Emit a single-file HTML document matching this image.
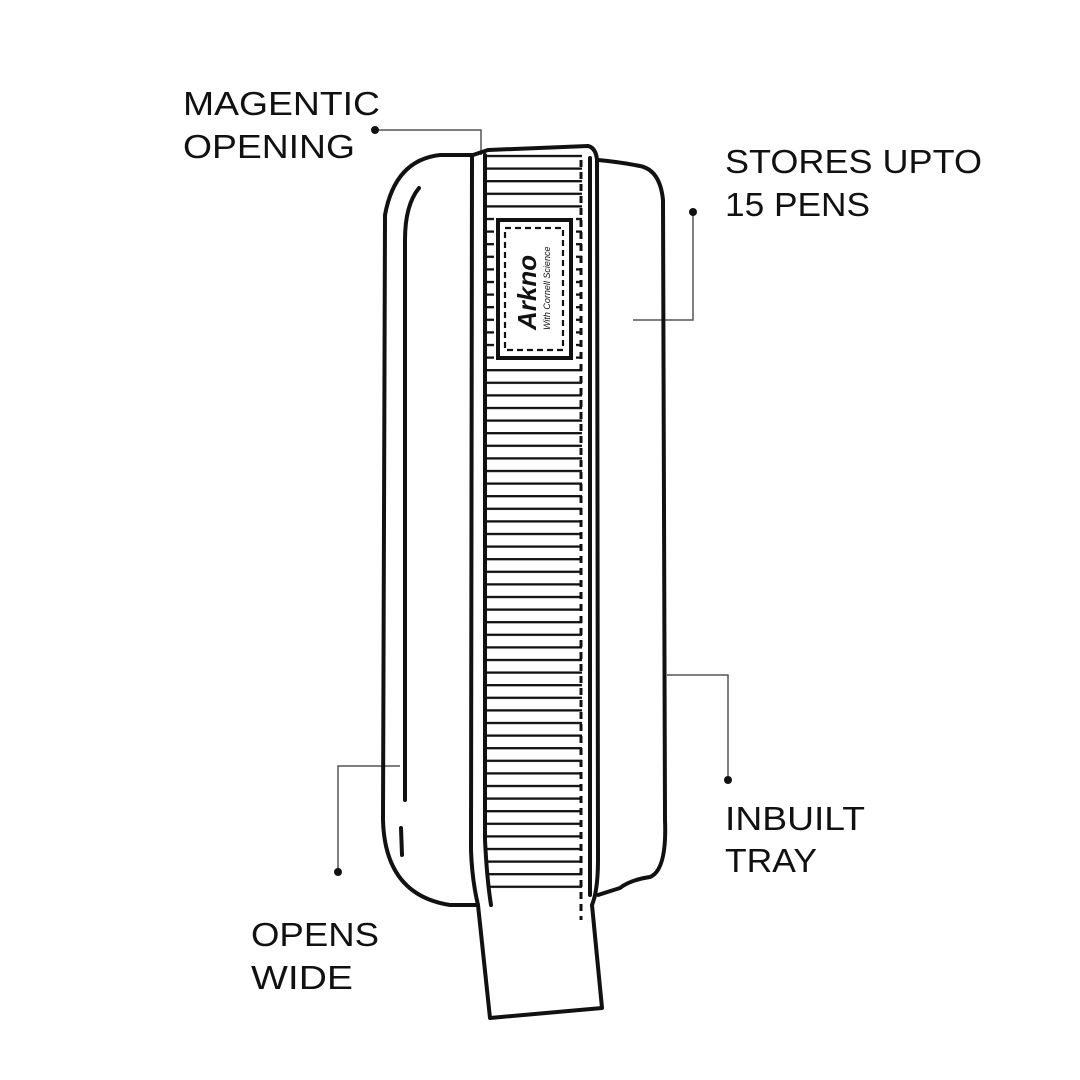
<!DOCTYPE html>
<html><head><meta charset="utf-8"><style>
html,body{margin:0;padding:0;background:#fff;}
svg{display:block;}
text{font-family:"Liberation Sans",sans-serif;font-size:33px;fill:#111;}
</style></head><body>
<svg width="1080" height="1080" viewBox="0 0 1080 1080" xmlns="http://www.w3.org/2000/svg">
<defs>
<pattern id="st" x="0" y="150" width="120" height="12.6" patternUnits="userSpaceOnUse">
<line x1="0" y1="6" x2="120" y2="6" stroke="#111" stroke-width="2.2"/>
</pattern>
</defs>
<rect width="1080" height="1080" fill="#fff"/>
<!-- leaders -->
<g stroke="#555" stroke-width="1.5" fill="none">
<polyline points="375,130 481,130 481,155"/>
<polyline points="693,212 693,320 633,320"/>
<polyline points="728,780 728,675 667,675"/>
<polyline points="338,872 338,766 400,766"/>
</g>
<g fill="#111">
<circle cx="375" cy="130" r="4"/><circle cx="693" cy="212" r="4"/>
<circle cx="728" cy="780" r="4"/><circle cx="338" cy="872" r="4"/>
</g>
<g stroke="#111" stroke-width="4" fill="none" stroke-linecap="round" stroke-linejoin="round">
<!-- left body -->
<path d="M472,155 L440,155 Q395,160 385,215 L383,820 Q385,895 450,905 L478,905"/>
<path d="M419,188 Q405,205 405,240 L405,800"/>
<path d="M401,828 L402,855" />
<!-- right body -->
<path d="M598,160 Q620,162 640,166 Q660,170 663,200 L665,820 Q667,870 650,877 Q630,880 620,888 L598,895"/>
<!-- strap -->
<path d="M472,157 L471,850 Q472,880 478,905 L490,1018 L602,1008 L592,905 Q598,890 598,860 L597,160 Q596,148 588,146 L488,150 L473,155"/>
<path d="M485,155 L485,840 Q487,880 491,905"/>
<path d="M590,158 L590,895"/>
</g>
<!-- stripes -->
<rect x="487" y="150" width="95" height="745" fill="url(#st)"/>
<rect x="494" y="216" width="82" height="148" fill="#fff"/>
<line x1="581" y1="160" x2="581" y2="920" stroke="#111" stroke-width="3" stroke-dasharray="7,5"/>
<!-- label -->
<rect x="498" y="220" width="73" height="138" fill="#fff" stroke="#111" stroke-width="4"/>
<rect x="505" y="228" width="58" height="122" fill="none" stroke="#111" stroke-width="2.2" stroke-dasharray="6,4"/>
<text transform="translate(536,330) rotate(-90)" style="font-size:26px;font-weight:bold;font-style:italic">Arkno</text>
<text transform="translate(550,330) rotate(-90)" style="font-size:9px;font-style:italic">With Cornell Science</text>
<!-- labels -->
<text x="183" y="115" textLength="197" lengthAdjust="spacingAndGlyphs">MAGENTIC</text>
<text x="183" y="158" textLength="172" lengthAdjust="spacingAndGlyphs">OPENING</text>
<text x="725" y="173" textLength="257" lengthAdjust="spacingAndGlyphs">STORES UPTO</text>
<text x="725" y="216" textLength="145" lengthAdjust="spacingAndGlyphs">15 PENS</text>
<text x="725" y="830" textLength="140" lengthAdjust="spacingAndGlyphs">INBUILT</text>
<text x="725" y="872" textLength="92" lengthAdjust="spacingAndGlyphs">TRAY</text>
<text x="251" y="946" textLength="128" lengthAdjust="spacingAndGlyphs">OPENS</text>
<text x="251" y="989" textLength="102" lengthAdjust="spacingAndGlyphs">WIDE</text>
</svg>
</body></html>
